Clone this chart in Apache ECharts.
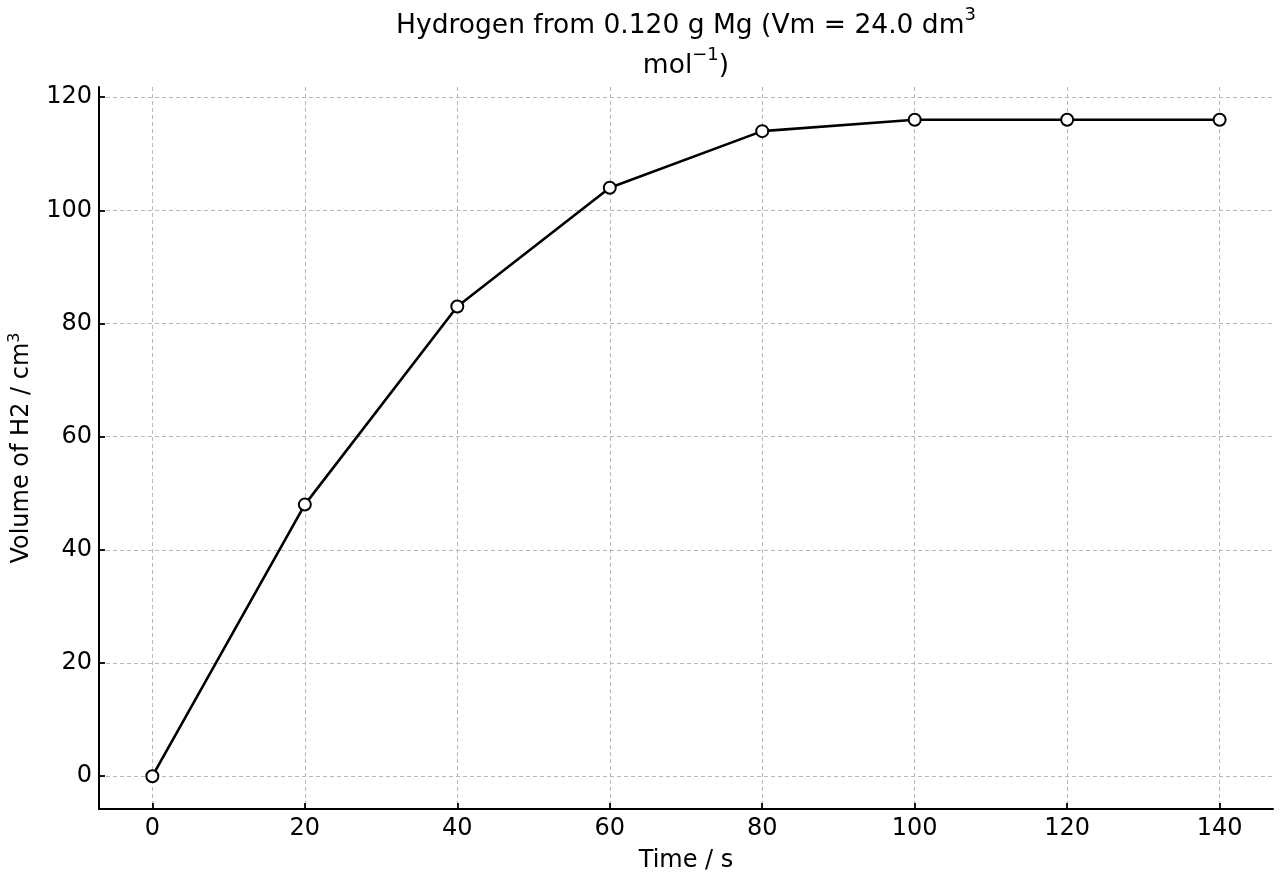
<!DOCTYPE html>
<html>
<head>
<meta charset="utf-8">
<title>Hydrogen from Mg</title>
<script src="https://cdn.jsdelivr.net/npm/echarts@6/dist/echarts.min.js"></script>
<style>
    html, body { margin: 0; padding: 0; background: #fff; }
    #chart { width: 1280px; height: 880px; }
</style>
</head>
<body>
<div id="chart"></div>
<script>
    // data
    var times = [0, 20, 40, 60, 80, 100, 120, 140];
    var volumes = [0, 48, 83, 104, 114, 116, 116, 116];
    var xTicks = [0, 20, 40, 60, 80, 100, 120, 140];
    var yTicks = [0, 20, 40, 60, 80, 100, 120];

    var points = [];
    for (var i = 0; i < times.length; i++) {
        points.push([times[i], volumes[i]]);
    }

    var font = 'DejaVu Sans';
    var myChart = echarts.init(document.getElementById('chart'));
    var option = {
        backgroundColor: '#fff',
        animation: false,
        title: {
            // centred over the plot area (99..1273), not the page
            text: '{t|Hydrogen from 0.120 g Mg (Vm = 24.0 dm}{s|3}\n{t|mol}{s|\u22121}{t|)}',
            left: 686,
            textAlign: 'center',
            top: 6,
            padding: 0,
            textStyle: {
                fontFamily: font,
                fontWeight: 'normal',
                rich: {
                    t: { fontFamily: font, fontWeight: 'normal', fontSize: 26.5, color: '#000', lineHeight: 40 },
                    s: { fontFamily: font, fontWeight: 'normal', fontSize: 18, color: '#000', lineHeight: 28, verticalAlign: 'top' }
                }
            }
        },
        grid: {
            left: 99,
            right: 7,
            top: 87,
            bottom: 71,
            outerBoundsMode: 'none'
        },
        xAxis: {
            type: 'value',
            min: -7,
            max: 147,
            name: 'Time / s',
            nameLocation: 'middle',
            nameGap: 40,
            nameTextStyle: { fontFamily: font, fontSize: 24, color: '#000' },
            axisLine: { show: true, onZero: false, lineStyle: { color: '#000', width: 2 } },
            axisTick: { show: true, inside: true, length: 6, customValues: xTicks, lineStyle: { color: '#000', width: 1.8 } },
            axisLabel: { customValues: xTicks, margin: 8, fontFamily: font, fontSize: 24, color: '#000' },
            splitLine: { show: true, customValues: xTicks, lineStyle: { color: '#b8b8b8', type: [4, 3], width: 1 } }
        },
        yAxis: {
            type: 'value',
            min: -5.8,
            max: 121.8,
            name: '{t|Volume of H2 / cm}{s|3}',
            nameLocation: 'middle',
            nameGap: 62,
            nameTextStyle: {
                fontFamily: font,
                rich: {
                    t: { fontFamily: font, fontSize: 24, color: '#000', lineHeight: 30 },
                    s: { fontFamily: font, fontSize: 16, color: '#000', lineHeight: 18, verticalAlign: 'top' }
                }
            },
            axisLine: { show: true, onZero: false, lineStyle: { color: '#000', width: 2 } },
            axisTick: { show: true, inside: true, length: 6, customValues: yTicks, lineStyle: { color: '#000', width: 1.8 } },
            axisLabel: { customValues: yTicks, margin: 7, fontFamily: font, fontSize: 24, color: '#000' },
            splitLine: { show: true, customValues: yTicks, lineStyle: { color: '#b8b8b8', type: [4, 3], width: 1 } }
        },
        series: [{
            type: 'line',
            data: points,
            symbol: 'circle',
            symbolSize: 12,
            lineStyle: { color: '#000', width: 2.6 },
            itemStyle: { color: '#fff', borderColor: '#000', borderWidth: 2 },
            emphasis: { disabled: true }
        }]
    };
    myChart.setOption(option);
</script>
</body>
</html>
